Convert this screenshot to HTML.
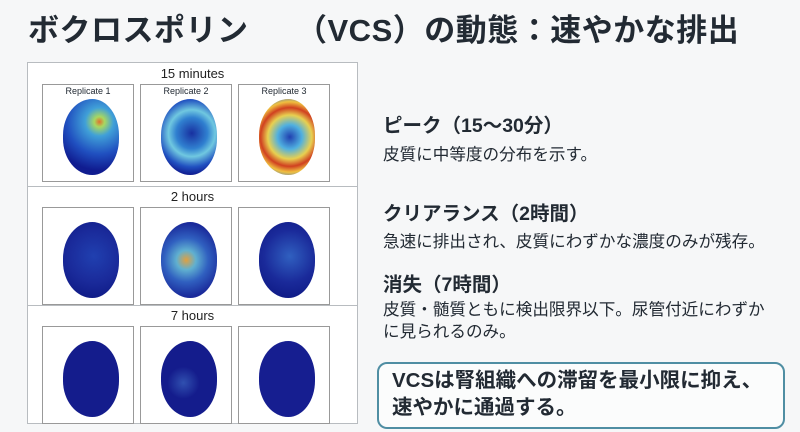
<!DOCTYPE html>
<html><head><meta charset="utf-8"><style>
body{margin:0;width:800px;height:432px;background:#f6f7f8;position:relative;overflow:hidden;font-family:"Liberation Sans","Noto Sans CJK JP",sans-serif;color:#222a33}
.a{position:absolute;white-space:nowrap}
.t{font-size:31px;font-weight:bold;left:28px;top:5px;letter-spacing:0.5px}
.h{font-size:19.5px;font-weight:bold;left:383px}
.b{font-size:16.6px;left:383px}
.panel{position:absolute;left:27px;top:62px;width:329px;height:360px;border:1px solid #b8bcc0;background:#fff}
.row{position:absolute;left:0;width:329px;border-bottom:1px solid #b8bcc0}
.rt{position:absolute;width:100%;text-align:center;font-size:13px;color:#222}
.img{position:absolute;width:90px;height:96px;border:1px solid #999;background:#fff;overflow:hidden}
.lbl{position:absolute;top:1px;width:100%;text-align:center;font-size:9px}
.k{position:absolute;left:20px;top:14px;width:56px;height:76px;border-radius:55% 50% 50% 55%/50% 50% 50% 50%}
.box{position:absolute;left:377px;top:362px;width:404px;height:63px;border:2px solid #4f8ea3;border-radius:10px;background:#fbfcfc}
</style></head><body>
<div class="a t">ボクロスポリン　　（VCS）の動態：速やかな排出</div>
<div class="panel">
 <div class="row" style="top:0;height:123px">
  <div class="rt" style="top:3px">15 minutes</div>
  <div class="img" style="left:14px;top:21px"><div class="lbl">Replicate 1</div><div class="k" style="background:radial-gradient(circle at 65% 30%,#e07030 0,#a8d860 8%,#40a0d8 22%,#2050c0 50%,#101c90 75%)"></div></div>
  <div class="img" style="left:112px;top:21px"><div class="lbl">Replicate 2</div><div class="k" style="background:radial-gradient(circle at 55% 45%,#1830a0 0,#3080d0 30%,#70c8e0 45%,#2050c0 65%,#101c90 80%)"></div></div>
  <div class="img" style="left:210px;top:21px"><div class="lbl">Replicate 3</div><div class="k" style="background:radial-gradient(circle at 55% 50%,#2040b0 0,#50b0e0 25%,#e8d050 45%,#d04020 60%,#f0c040 72%,#3070d0 88%)"></div></div>
 </div>
 <div class="row" style="top:123px;height:119px">
  <div class="rt" style="top:3px">2 hours</div>
  <div class="img" style="left:14px;top:21px"><div class="k" style="background:radial-gradient(circle at 55% 45%,#2040b0 0,#1a2a9a 50%,#101c88 80%)"></div></div>
  <div class="img" style="left:112px;top:21px"><div class="k" style="background:radial-gradient(circle at 45% 50%,#e0a040 0,#60b0d0 20%,#3060c0 45%,#1a2a9a 75%)"></div></div>
  <div class="img" style="left:210px;top:21px"><div class="k" style="background:radial-gradient(circle at 55% 45%,#3060c0 0,#1a2a9a 50%,#101c88 80%)"></div></div>
 </div>
 <div class="row" style="top:242px;height:118px;border-bottom:none">
  <div class="rt" style="top:3px">7 hours</div>
  <div class="img" style="left:14px;top:21px"><div class="k" style="background:#141c8c"></div></div>
  <div class="img" style="left:112px;top:21px"><div class="k" style="background:radial-gradient(circle at 40% 55%,#3050b0 0,#141c8c 30%)"></div></div>
  <div class="img" style="left:210px;top:21px"><div class="k" style="background:#161e90"></div></div>
 </div>
</div>
<div class="a h" style="top:109px">ピーク（15〜30分）</div>
<div class="a b" style="top:141px">皮質に中等度の分布を示す。</div>
<div class="a h" style="top:197px">クリアランス（2時間）</div>
<div class="a b" style="top:228px">急速に排出され、皮質にわずかな濃度のみが残存。</div>
<div class="a h" style="top:268px">消失（7時間）</div>
<div class="a b" style="top:296px">皮質・髄質ともに検出限界以下。尿管付近にわずか</div>
<div class="a b" style="top:318px">に見られるのみ。</div>
<div class="box"></div>
<div class="a" style="left:392px;top:367px;font-size:20.5px;font-weight:bold;line-height:27px">VCSは腎組織への滞留を最小限に抑え、<br>速やかに通過する。</div>
</body></html>
